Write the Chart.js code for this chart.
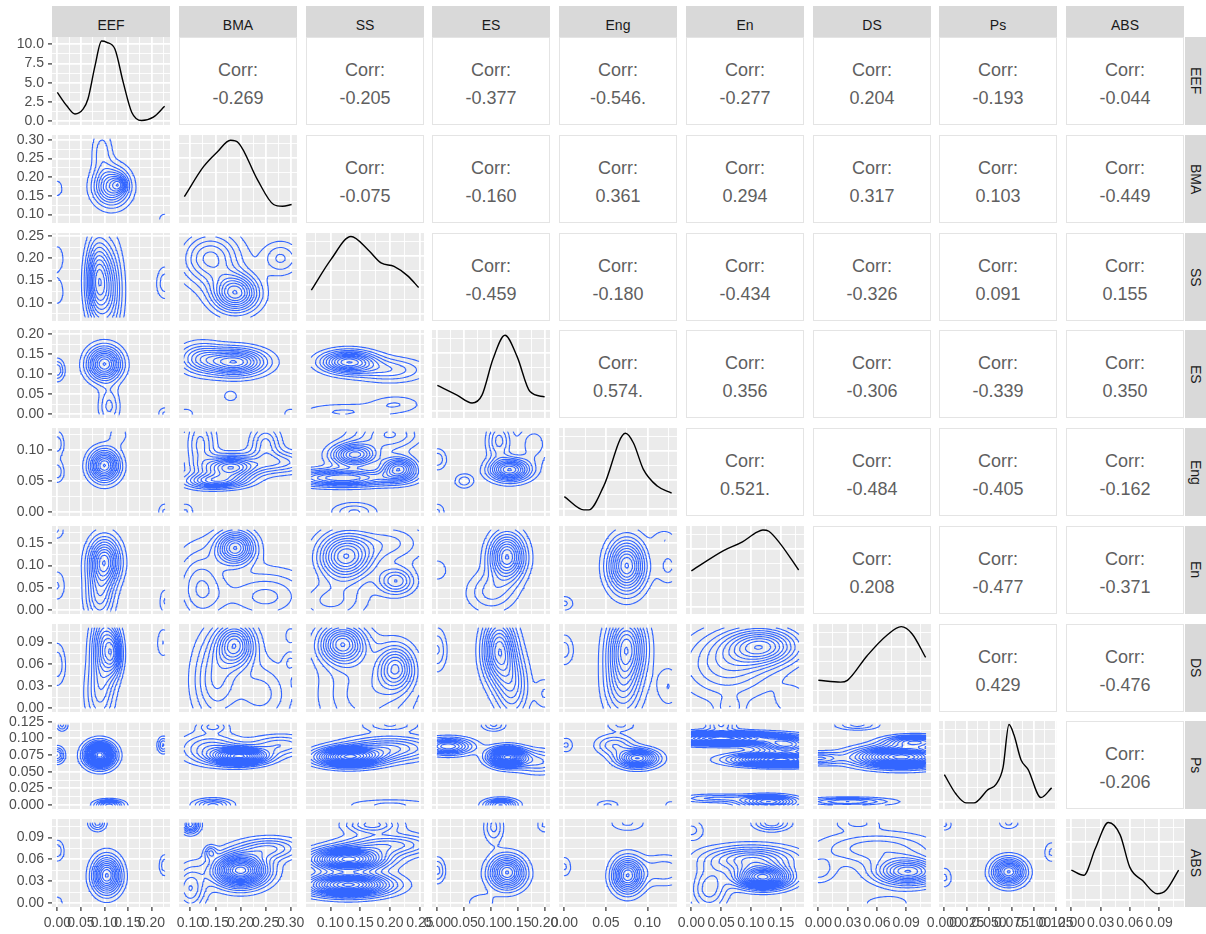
<!DOCTYPE html>
<html>
<head>
<meta charset="utf-8">
<script src="https://cdn.jsdelivr.net/npm/chart.js@4.4.1/dist/chart.umd.min.js"></script>
<style>
  body { margin: 0; background: #fff; }
  #fig { position: relative; width: 1206px; height: 934px; overflow: hidden; background: #fff;
         font-family: 'Liberation Sans', Arial, sans-serif; }
  .strip { position: absolute; background: #d9d9d9; color: #1a1a1a; font-size: 14px;
           display: flex; align-items: center; justify-content: center; box-sizing: border-box; }
  .strip.top { padding-top: 6px; }
  .strip.right { writing-mode: vertical-rl; }
  .corr { position: absolute; background: #fff; border: 1px solid #e4e4e4; box-sizing: border-box;
          color: #5f5f5f; font-size: 18px; }
  .corr span { position: absolute; left: 0; right: 0; text-align: center; line-height: 20px; }
  canvas { position: absolute; }
</style>
</head>
<body>
<div id="fig"></div>
<script>
const VARS = ['EEF', 'BMA', 'SS', 'ES', 'Eng', 'En', 'DS', 'Ps', 'ABS'];
const DATA_MIN = [0, 0.088, 0.068, 0, 0, 0, 0, 0, 0];
const DATA_MAX = [0.228, 0.302, 0.248, 0.2, 0.129, 0.18, 0.11, 0.12, 0.11];
const MAJOR_BREAKS = [
  [0, 0.05, 0.10, 0.15, 0.20],
  [0.10, 0.15, 0.20, 0.25, 0.30],
  [0.10, 0.15, 0.20, 0.25],
  [0, 0.05, 0.10, 0.15, 0.20],
  [0, 0.05, 0.10],
  [0, 0.05, 0.10, 0.15],
  [0, 0.03, 0.06, 0.09],
  [0, 0.025, 0.05, 0.075, 0.10, 0.125],
  [0, 0.03, 0.06, 0.09]
];
const BREAK_DIGITS = [2, 2, 2, 2, 2, 2, 2, 3, 2];
const EEF_DENS_BREAKS = [0, 2.5, 5, 7.5, 10];
const DIAG_BREAKS = [0.08, 0.41, 0.74];

// upper triangle, row by row
const CORR_TEXT = [
  ['-0.269', '-0.205', '-0.377', '-0.546.', '-0.277', '0.204', '-0.193', '-0.044'],
  ['-0.075', '-0.160', '0.361', '0.294', '0.317', '0.103', '-0.449'],
  ['-0.459', '-0.180', '-0.434', '-0.326', '0.091', '0.155'],
  ['0.574.', '0.356', '-0.306', '-0.339', '0.350'],
  ['0.521.', '-0.484', '-0.405', '-0.162'],
  ['0.208', '-0.477', '-0.371'],
  ['0.429', '-0.476'],
  ['-0.206']
];

// diagonal densities (EEF in density units, the others as share of panel height)
const EEF_DENS_X = [0.0, 0.02, 0.0375, 0.055, 0.065, 0.08, 0.094, 0.105, 0.1225, 0.14, 0.158, 0.179, 0.204, 0.228];
const EEF_DENS_Y = [3.74, 2.0, 0.94, 1.6, 2.88, 7.2, 10.43, 10.25, 9.35, 5.04, 1.16, 0.08, 0.52, 1.94];
const BMA_DENS_X = [0.088, 0.1262, 0.1541, 0.18, 0.196, 0.234, 0.266, 0.284, 0.302];
const BMA_DENS_Y = [0.30, 0.64, 0.81, 0.94, 0.91, 0.49, 0.21, 0.19, 0.21];
const SS_DENS_X = [0.068, 0.101, 0.1345, 0.163, 0.1849, 0.2067, 0.2302, 0.248];
const SS_DENS_Y = [0.35, 0.70, 0.96, 0.81, 0.66, 0.62, 0.51, 0.38];
const ES_DENS_X = [0.0, 0.0366, 0.0646, 0.0832, 0.1037, 0.126, 0.1485, 0.1727, 0.2];
const ES_DENS_Y = [0.37, 0.26, 0.17, 0.26, 0.67, 0.94, 0.70, 0.30, 0.24];
const ENG_DENS_X = [0.0, 0.0234, 0.0294, 0.0473, 0.0735, 0.0831, 0.095, 0.1117, 0.129];
const ENG_DENS_Y = [0.22, 0.07, 0.07, 0.34, 0.94, 0.83, 0.53, 0.34, 0.26];
const EN_DENS_X = [0.0, 0.054, 0.0857, 0.11, 0.12, 0.13, 0.149, 0.18];
const EN_DENS_Y = [0.49, 0.72, 0.82, 0.93, 0.955, 0.94, 0.80, 0.50];
const DS_DENS_X = [0.0, 0.0228, 0.0298, 0.05, 0.07, 0.085, 0.096, 0.11];
const DS_DENS_Y = [0.36, 0.34, 0.36, 0.64, 0.87, 0.97, 0.89, 0.62];
const PS_DENS_X = [0.0, 0.013, 0.0242, 0.0332, 0.0488, 0.0578, 0.0656, 0.0723, 0.0779, 0.0857, 0.0936, 0.108, 0.12];
const PS_DENS_Y = [0.39, 0.17, 0.07, 0.07, 0.22, 0.28, 0.47, 0.96, 0.84, 0.56, 0.45, 0.13, 0.24];
const ABS_DENS_X = [0.0, 0.0127, 0.0248, 0.0379, 0.05, 0.06, 0.073, 0.088, 0.097, 0.11];
const ABS_DENS_Y = [0.42, 0.36, 0.67, 0.96, 0.82, 0.45, 0.30, 0.15, 0.19, 0.42];

// 2d density bumps: [x centre, y centre, x spread, y spread, weight]
const KDE_BMA_EEF = [[0.115, 0.175, 0.025, 0.034, 1], [0.132, 0.18, 0.01, 0.014, 0.45], [0.095, 0.27, 0.015, 0.04, 0.3], [0.0, 0.17, 0.01, 0.02, 0.18], [0.228, 0.088, 0.01, 0.012, 0.2]];
const KDE_SS_EEF = [[0.085, 0.15, 0.016, 0.06, 1], [0.112, 0.13, 0.018, 0.07, 0.6], [0.0, 0.2, 0.01, 0.022, 0.22], [0.0, 0.125, 0.01, 0.022, 0.22], [0.228, 0.145, 0.012, 0.025, 0.3]];
const KDE_SS_BMA = [[0.19, 0.122, 0.03, 0.028, 1], [0.14, 0.2, 0.04, 0.04, 0.6], [0.28, 0.2, 0.025, 0.025, 0.3]];
const KDE_ES_EEF = [[0.1, 0.125, 0.024, 0.028, 1], [0.0, 0.11, 0.01, 0.018, 0.35], [0.11, 0.02, 0.015, 0.03, 0.3], [0.228, 0.0, 0.01, 0.012, 0.2]];
const KDE_ES_BMA = [[0.19, 0.13, 0.04, 0.022, 1], [0.12, 0.14, 0.03, 0.025, 0.45], [0.18, 0.045, 0.01, 0.01, 0.18], [0.09, 0.0, 0.015, 0.012, 0.15], [0.3, 0.0, 0.012, 0.012, 0.15]];
const KDE_ES_SS = [[0.13, 0.13, 0.03, 0.018, 1], [0.2, 0.11, 0.04, 0.02, 0.35], [0.12, 0.005, 0.05, 0.015, 0.2], [0.21, 0.025, 0.03, 0.015, 0.18]];
const KDE_ENG_EEF = [[0.1, 0.075, 0.021, 0.017, 1], [0.0, 0.11, 0.01, 0.014, 0.25], [0.0, 0.065, 0.01, 0.012, 0.25], [0.13, 0.125, 0.015, 0.012, 0.15], [0.228, 0.0, 0.01, 0.01, 0.2]];
const KDE_ENG_BMA = [[0.18, 0.072, 0.035, 0.012, 1], [0.15, 0.05, 0.04, 0.008, 0.7], [0.25, 0.11, 0.02, 0.02, 0.4], [0.28, 0.08, 0.04, 0.012, 0.4], [0.12, 0.11, 0.02, 0.03, 0.4], [0.09, 0.0, 0.012, 0.01, 0.2]];
const KDE_ENG_SS = [[0.14, 0.092, 0.025, 0.012, 0.8], [0.215, 0.07, 0.02, 0.012, 0.8], [0.12, 0.055, 0.06, 0.009, 0.7], [0.14, 0.0, 0.025, 0.01, 0.25], [0.2, 0.125, 0.04, 0.02, 0.4]];
const KDE_ENG_ES = [[0.135, 0.068, 0.025, 0.012, 1], [0.115, 0.115, 0.015, 0.02, 0.4], [0.0, 0.085, 0.012, 0.012, 0.25], [0.05, 0.05, 0.012, 0.008, 0.25], [0.0, 0.0, 0.01, 0.01, 0.2], [0.18, 0.11, 0.02, 0.02, 0.25]];
const KDE_EN_EEF = [[0.1, 0.11, 0.022, 0.035, 1], [0.09, 0.03, 0.02, 0.04, 0.5], [0.0, 0.18, 0.01, 0.015, 0.2], [0.0, 0.055, 0.012, 0.025, 0.2], [0.228, 0.02, 0.008, 0.02, 0.2]];
const KDE_EN_BMA = [[0.19, 0.14, 0.025, 0.025, 1], [0.25, 0.03, 0.06, 0.04, 0.4], [0.12, 0.05, 0.035, 0.06, 0.45]];
const KDE_EN_SS = [[0.125, 0.12, 0.03, 0.035, 1], [0.21, 0.065, 0.02, 0.02, 0.55], [0.2, 0.15, 0.04, 0.03, 0.3], [0.1, 0.02, 0.04, 0.03, 0.3]];
const KDE_EN_ES = [[0.13, 0.12, 0.022, 0.035, 1], [0.1, 0.04, 0.03, 0.03, 0.3], [0.0, 0.09, 0.015, 0.02, 0.15]];
const KDE_EN_ENG = [[0.075, 0.1, 0.015, 0.04, 1], [0.0, 0.015, 0.008, 0.012, 0.2], [0.125, 0.1, 0.01, 0.03, 0.2], [0.12, 0.16, 0.01, 0.015, 0.15]];
const KDE_DS_EEF = [[0.1, 0.085, 0.018, 0.03, 1], [0.12, 0.075, 0.012, 0.02, 0.7], [0.09, 0.02, 0.02, 0.03, 0.5], [0.0, 0.06, 0.012, 0.02, 0.35], [0.225, 0.09, 0.01, 0.015, 0.25]];
const KDE_DS_BMA = [[0.19, 0.087, 0.025, 0.02, 1], [0.15, 0.04, 0.03, 0.04, 0.5], [0.3, 0.063, 0.01, 0.01, 0.2], [0.3, 0.1, 0.01, 0.01, 0.15], [0.24, 0.02, 0.04, 0.03, 0.35]];
const KDE_DS_SS = [[0.12, 0.088, 0.025, 0.018, 1], [0.21, 0.055, 0.02, 0.02, 0.75], [0.16, 0.02, 0.05, 0.04, 0.35]];
const KDE_DS_ES = [[0.115, 0.08, 0.02, 0.03, 1], [0.14, 0.03, 0.02, 0.03, 0.5], [0.0, 0.08, 0.012, 0.02, 0.3], [0.2, 0.02, 0.012, 0.015, 0.2]];
const KDE_DS_ENG = [[0.075, 0.085, 0.015, 0.03, 1], [0.07, 0.03, 0.015, 0.03, 0.5], [0.0, 0.08, 0.008, 0.015, 0.25], [0.125, 0.03, 0.01, 0.02, 0.2]];
const KDE_DS_EN = [[0.12, 0.085, 0.04, 0.017, 1], [0.06, 0.06, 0.05, 0.03, 0.5], [0.065, 0.0, 0.015, 0.01, 0.25], [0.17, 0.01, 0.02, 0.015, 0.2]];
const KDE_PS_EEF = [[0.09, 0.075, 0.02, 0.012, 1], [0.0, 0.075, 0.01, 0.008, 0.3], [0.01, 0.12, 0.008, 0.006, 0.2], [0.225, 0.09, 0.008, 0.008, 0.25], [0.11, 0.0, 0.02, 0.005, 0.45]];
const KDE_PS_BMA = [[0.2, 0.073, 0.035, 0.008, 1], [0.14, 0.085, 0.04, 0.015, 0.3], [0.28, 0.09, 0.04, 0.01, 0.25], [0.145, 0.118, 0.02, 0.006, 0.2], [0.145, 0.0, 0.025, 0.006, 0.35]];
const KDE_PS_SS = [[0.13, 0.072, 0.035, 0.009, 1], [0.2, 0.085, 0.05, 0.012, 0.4], [0.2, 0.12, 0.03, 0.006, 0.2], [0.2, 0.0, 0.05, 0.006, 0.15]];
const KDE_PS_ES = [[0.13, 0.072, 0.022, 0.009, 1], [0.02, 0.088, 0.03, 0.008, 0.55], [0.105, 0.12, 0.015, 0.006, 0.2], [0.118, 0.0, 0.02, 0.006, 0.5], [0.19, 0.065, 0.03, 0.012, 0.25]];
const KDE_PS_ENG = [[0.088, 0.07, 0.016, 0.009, 1], [0.06, 0.09, 0.015, 0.01, 0.35], [0.002, 0.09, 0.006, 0.008, 0.2], [0.068, 0.12, 0.012, 0.006, 0.2], [0.052, 0.0, 0.01, 0.005, 0.2], [0.128, 0.0, 0.006, 0.005, 0.15]];
const KDE_PS_EN = [[0.15, 0.068, 0.05, 0.006, 1], [0.05, 0.1, 0.06, 0.006, 0.9], [0.16, 0.09, 0.03, 0.008, 0.6], [0.13, 0.005, 0.03, 0.006, 0.6], [0.05, 0.12, 0.015, 0.006, 0.25], [0.04, 0.01, 0.04, 0.004, 0.2]];
const KDE_PS_DS = [[0.085, 0.072, 0.03, 0.01, 1], [0.1, 0.095, 0.02, 0.006, 0.5], [0.0, 0.07, 0.015, 0.006, 0.3], [0.04, 0.12, 0.015, 0.005, 0.2], [0.03, 0.005, 0.03, 0.004, 0.3]];
const KDE_ABS_EEF = [[0.105, 0.038, 0.02, 0.017, 1], [0.085, 0.11, 0.012, 0.007, 0.4], [0.0, 0.072, 0.01, 0.01, 0.25], [0.228, 0.052, 0.008, 0.01, 0.25], [0.0, 0.0, 0.01, 0.008, 0.15]];
const KDE_ABS_BMA = [[0.2, 0.045, 0.035, 0.015, 1], [0.1, 0.108, 0.012, 0.008, 0.45], [0.14, 0.07, 0.008, 0.006, 0.2], [0.26, 0.075, 0.04, 0.01, 0.3], [0.1, 0.02, 0.02, 0.02, 0.3]];
const KDE_ABS_SS = [[0.13, 0.06, 0.04, 0.01, 0.9], [0.13, 0.025, 0.045, 0.01, 0.9], [0.17, 0.108, 0.03, 0.008, 0.3], [0.2, 0.08, 0.05, 0.01, 0.3]];
const KDE_ABS_ES = [[0.13, 0.042, 0.022, 0.015, 1], [0.105, 0.105, 0.012, 0.015, 0.3], [0.0, 0.045, 0.01, 0.012, 0.3], [0.2, 0.108, 0.01, 0.008, 0.2], [0.08, 0.0, 0.02, 0.01, 0.15]];
const KDE_ABS_ENG = [[0.076, 0.038, 0.012, 0.016, 1], [0.076, 0.11, 0.015, 0.008, 0.2], [0.0, 0.05, 0.006, 0.01, 0.2], [0.12, 0.045, 0.02, 0.015, 0.25]];
const KDE_ABS_EN = [[0.12, 0.035, 0.03, 0.01, 1], [0.1, 0.06, 0.05, 0.012, 0.5], [0.135, 0.11, 0.02, 0.007, 0.3], [0.03, 0.02, 0.02, 0.02, 0.3], [0.0, 0.1, 0.015, 0.01, 0.15]];
const KDE_ABS_DS = [[0.092, 0.043, 0.022, 0.012, 1], [0.06, 0.075, 0.04, 0.015, 0.35], [0.04, 0.11, 0.015, 0.006, 0.2], [0.0, 0.045, 0.012, 0.012, 0.25], [0.07, 0.0, 0.02, 0.008, 0.15]];
const KDE_ABS_PS = [[0.072, 0.043, 0.012, 0.012, 1], [0.072, 0.11, 0.008, 0.006, 0.2], [0.0, 0.108, 0.006, 0.006, 0.2], [0.0, 0.035, 0.006, 0.01, 0.2], [0.12, 0.07, 0.006, 0.01, 0.2]];

// contour level spacing (share of peak), denser panels get more rings
const LEVEL_STEP = 0.09;
const DENSE_LEVEL_STEP = 0.06;

const LOWER = [
  [1, 0, KDE_BMA_EEF, LEVEL_STEP],
  [2, 0, KDE_SS_EEF, LEVEL_STEP], [2, 1, KDE_SS_BMA, LEVEL_STEP],
  [3, 0, KDE_ES_EEF, LEVEL_STEP], [3, 1, KDE_ES_BMA, LEVEL_STEP], [3, 2, KDE_ES_SS, LEVEL_STEP],
  [4, 0, KDE_ENG_EEF, LEVEL_STEP], [4, 1, KDE_ENG_BMA, LEVEL_STEP], [4, 2, KDE_ENG_SS, LEVEL_STEP], [4, 3, KDE_ENG_ES, LEVEL_STEP],
  [5, 0, KDE_EN_EEF, LEVEL_STEP], [5, 1, KDE_EN_BMA, LEVEL_STEP], [5, 2, KDE_EN_SS, LEVEL_STEP], [5, 3, KDE_EN_ES, LEVEL_STEP], [5, 4, KDE_EN_ENG, LEVEL_STEP],
  [6, 0, KDE_DS_EEF, LEVEL_STEP], [6, 1, KDE_DS_BMA, LEVEL_STEP], [6, 2, KDE_DS_SS, LEVEL_STEP], [6, 3, KDE_DS_ES, LEVEL_STEP], [6, 4, KDE_DS_ENG, LEVEL_STEP], [6, 5, KDE_DS_EN, LEVEL_STEP],
  [7, 0, KDE_PS_EEF, DENSE_LEVEL_STEP], [7, 1, KDE_PS_BMA, DENSE_LEVEL_STEP], [7, 2, KDE_PS_SS, DENSE_LEVEL_STEP], [7, 3, KDE_PS_ES, DENSE_LEVEL_STEP],
  [7, 4, KDE_PS_ENG, LEVEL_STEP], [7, 5, KDE_PS_EN, DENSE_LEVEL_STEP], [7, 6, KDE_PS_DS, DENSE_LEVEL_STEP],
  [8, 0, KDE_ABS_EEF, LEVEL_STEP], [8, 1, KDE_ABS_BMA, DENSE_LEVEL_STEP], [8, 2, KDE_ABS_SS, DENSE_LEVEL_STEP], [8, 3, KDE_ABS_ES, LEVEL_STEP],
  [8, 4, KDE_ABS_ENG, LEVEL_STEP], [8, 5, KDE_ABS_EN, DENSE_LEVEL_STEP], [8, 6, KDE_ABS_DS, LEVEL_STEP], [8, 7, KDE_ABS_PS, LEVEL_STEP]
];
const DIAG = [
  [EEF_DENS_X, EEF_DENS_Y], [BMA_DENS_X, BMA_DENS_Y], [SS_DENS_X, SS_DENS_Y], [ES_DENS_X, ES_DENS_Y],
  [ENG_DENS_X, ENG_DENS_Y], [EN_DENS_X, EN_DENS_Y], [DS_DENS_X, DS_DENS_Y], [PS_DENS_X, PS_DENS_Y], [ABS_DENS_X, ABS_DENS_Y]
];

// ---- layout ----
const PW = 118, PH = 88, PAD = 30, YAXIS_W = 52, XAXIS_H = 28;
const colX = j => Math.round(52 + j * 126.75);
const rowY = i => Math.round(37 + i * 97.75);
const FONT = "'Liberation Sans', Arial, sans-serif";
Chart.defaults.font.family = FONT;

const fig = document.getElementById('fig');

function varAxis(v) {
  const pad = (DATA_MAX[v] - DATA_MIN[v]) * 0.05;
  return { min: DATA_MIN[v] - pad, max: DATA_MAX[v] + pad, majors: MAJOR_BREAKS[v], digits: BREAK_DIGITS[v] };
}

function axisOpts(ax, show, horizontal) {
  const step = ax.majors[1] - ax.majors[0];
  const ticks = ax.majors.filter(v => v >= ax.min && v <= ax.max).map(v => ({ value: v, maj: true }));
  for (let v = ax.majors[0] - step / 2; v <= ax.max; v += step) {
    if (v >= ax.min) ticks.push({ value: v, maj: false });
  }
  ticks.sort((a, b) => a.value - b.value);
  return {
    type: 'linear', min: ax.min, max: ax.max,
    afterBuildTicks: s => { s.ticks = ticks.map(t => ({ ...t })); },
    afterFit: s => { if (horizontal) s.height = show ? XAXIS_H : 0; else s.width = show ? YAXIS_W : 0; },
    border: { display: false },
    grid: {
      color: '#ffffff',
      lineWidth: c => (c.tick && c.tick.maj ? 1.8 : 0.9),
      drawTicks: show, tickLength: 4, tickWidth: 1.2,
      tickColor: c => (c.tick && c.tick.maj ? '#333333' : 'rgba(0,0,0,0)')
    },
    ticks: {
      display: show, autoSkip: false, maxRotation: 0, minRotation: 0, padding: 4,
      color: '#4d4d4d', font: { family: FONT, size: 14 },
      callback: (v, i, all) => (all[i] && all[i].maj ? Number(v).toFixed(ax.digits) : '')
    }
  };
}

const panelBg = {
  id: 'panelBg',
  beforeDraw(chart) {
    const { ctx, chartArea: a } = chart;
    ctx.save();
    ctx.fillStyle = '#ebebeb';
    ctx.fillRect(a.left, a.top, a.right - a.left, a.bottom - a.top);
    ctx.restore();
  }
};

function panelChart(row, col, xAx, yAx, datasets) {
  const showY = col === 0, showX = row === 8;
  const yW = showY ? YAXIS_W : 0, xH = showX ? XAXIS_H : 0;
  const cw = PW + yW + 2 * PAD, ch = PH + xH + 2 * PAD;
  const cv = document.createElement('canvas');
  cv.width = cw; cv.height = ch;
  cv.style.width = cw + 'px'; cv.style.height = ch + 'px';
  cv.style.left = (colX(col) - yW - PAD) + 'px';
  cv.style.top = (rowY(row) - PAD) + 'px';
  fig.appendChild(cv);
  new Chart(cv, {
    type: 'scatter',
    data: { datasets },
    options: {
      responsive: false, animation: false, devicePixelRatio: 1, events: [],
      layout: { padding: PAD },
      plugins: { legend: { display: false }, tooltip: { enabled: false } },
      scales: { x: axisOpts(xAx, showX, true), y: axisOpts(yAx, showY, false) }
    },
    plugins: [panelBg]
  });
}

// marching squares over the summed bumps
function crossing(xa, ya, va, xb, yb, vb, L) {
  if ((va >= L) === (vb >= L)) return null;
  const t = (L - va) / (vb - va);
  return { x: xa + t * (xb - xa), y: ya + t * (yb - ya) };
}

function contourPoints(blobs, xv, yv, step) {
  const nx = 64, ny = 48;
  const x0 = DATA_MIN[xv], x1 = DATA_MAX[xv], y0 = DATA_MIN[yv], y1 = DATA_MAX[yv];
  const gx = [], gy = [];
  for (let i = 0; i <= nx; i++) gx.push(x0 + (x1 - x0) * i / nx);
  for (let j = 0; j <= ny; j++) gy.push(y0 + (y1 - y0) * j / ny);
  const z = [];
  let zmax = 0;
  for (let j = 0; j <= ny; j++) {
    const r = [];
    for (let i = 0; i <= nx; i++) {
      let s = 0;
      for (const b of blobs) {
        const dx = (gx[i] - b[0]) / b[2], dy = (gy[j] - b[1]) / b[3];
        s += b[4] * Math.exp(-0.5 * (dx * dx + dy * dy));
      }
      r.push(s);
      if (s > zmax) zmax = s;
    }
    z.push(r);
  }
  const pts = [];
  const seg = (a, b) => { pts.push(a, b, { x: b.x, y: null }); };
  for (let lv = step; lv < 0.995; lv += step) {
    const L = lv * zmax;
    for (let j = 0; j < ny; j++) {
      for (let i = 0; i < nx; i++) {
        const v0 = z[j][i], v1 = z[j][i + 1], v2 = z[j + 1][i + 1], v3 = z[j + 1][i];
        const e = [
          crossing(gx[i], gy[j], v0, gx[i + 1], gy[j], v1, L),
          crossing(gx[i + 1], gy[j], v1, gx[i + 1], gy[j + 1], v2, L),
          crossing(gx[i], gy[j + 1], v3, gx[i + 1], gy[j + 1], v2, L),
          crossing(gx[i], gy[j], v0, gx[i], gy[j + 1], v3, L)
        ];
        const hit = [0, 1, 2, 3].filter(k => e[k]);
        if (hit.length === 2) seg(e[hit[0]], e[hit[1]]);
        else if (hit.length === 4) {
          const c = (v0 + v1 + v2 + v3) / 4;
          if ((c >= L) === (v0 >= L)) { seg(e[0], e[1]); seg(e[2], e[3]); }
          else { seg(e[3], e[0]); seg(e[1], e[2]); }
        }
      }
    }
  }
  return pts;
}

// ---- strips ----
VARS.forEach((name, j) => {
  const d = document.createElement('div');
  d.className = 'strip top';
  Object.assign(d.style, { left: colX(j) + 'px', top: '6px', width: PW + 'px', height: '31px' });
  d.textContent = name;
  fig.appendChild(d);
});
VARS.forEach((name, i) => {
  const d = document.createElement('div');
  d.className = 'strip right';
  Object.assign(d.style, { left: '1185px', top: rowY(i) + 'px', width: '22px', height: PH + 'px' });
  d.textContent = name;
  fig.appendChild(d);
});

// ---- upper triangle: correlations ----
CORR_TEXT.forEach((rowVals, i) => {
  rowVals.forEach((txt, k) => {
    const j = i + 1 + k;
    const d = document.createElement('div');
    d.className = 'corr';
    Object.assign(d.style, { left: colX(j) + 'px', top: rowY(i) + 'px', width: PW + 'px', height: PH + 'px' });
    d.innerHTML = '<span style="top:22px">Corr:</span><span style="top:50px"></span>';
    d.lastChild.textContent = txt;
    fig.appendChild(d);
  });
});

// ---- diagonal: densities ----
DIAG.forEach(([xs, ys], k) => {
  const yAx = k === 0
    ? { min: -0.5, max: 10.95, majors: EEF_DENS_BREAKS, digits: 1 }
    : { min: 0, max: 1, majors: DIAG_BREAKS, digits: 2 };
  panelChart(k, k, varAxis(k), yAx, [{
    data: xs.map((x, n) => ({ x, y: ys[n] })),
    showLine: true, borderColor: '#000000', borderWidth: 1.4,
    pointRadius: 0, cubicInterpolationMode: 'monotone'
  }]);
});

// ---- lower triangle: 2d density contours ----
LOWER.forEach(([row, col, blobs, step]) => {
  panelChart(row, col, varAxis(col), varAxis(row), [{
    data: contourPoints(blobs, col, row, step),
    showLine: true, spanGaps: false, borderColor: '#3366ff', borderWidth: 1.1,
    borderCapStyle: 'round', pointRadius: 0
  }]);
});
</script>
</body>
</html>
